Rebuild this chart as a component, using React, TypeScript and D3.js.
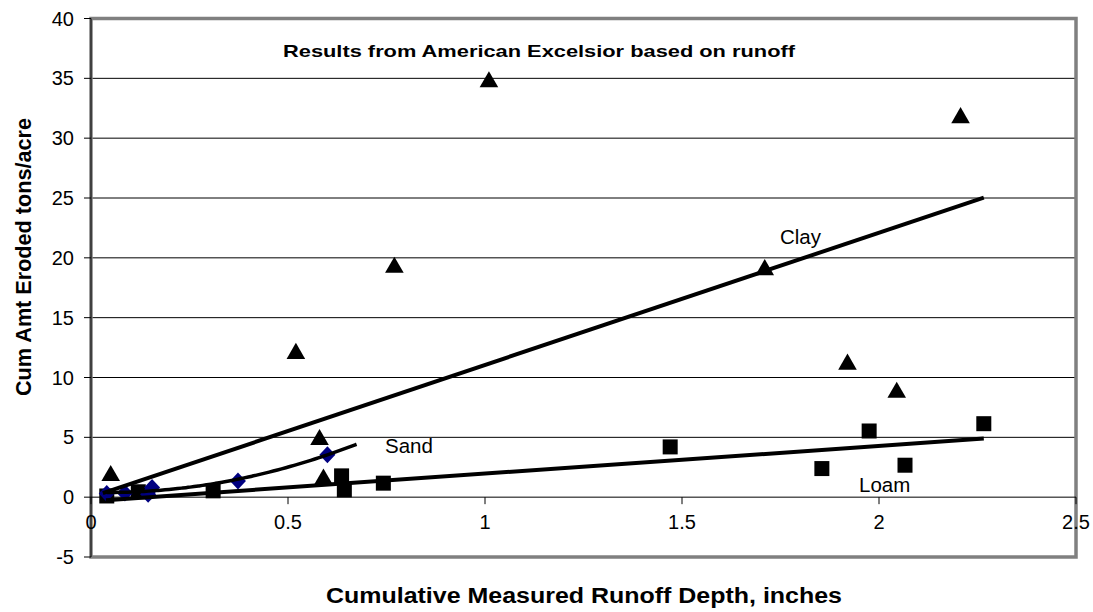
import React from 'react';
import * as d3 from 'd3';

const W = 1093;
const H = 612;

// Observed points per soil type (cumulative runoff depth in inches, erosion in tons/acre)
const clayX = [0.05, 0.52, 0.58, 0.59, 0.77, 1.01, 1.71, 1.92, 2.045, 2.207];
const clayY = [1.8, 12.0, 4.8, 1.5, 19.2, 34.7, 19.0, 11.1, 8.75, 31.7];
const loamX = [0.04, 0.12, 0.31, 0.636, 0.643, 0.742, 1.47, 1.855, 1.975, 2.066, 2.266];
const loamY = [0.1, 0.45, 0.53, 1.78, 0.61, 1.17, 4.2, 2.39, 5.53, 2.67, 6.14];
const sandX = [0.04, 0.086, 0.145, 0.155, 0.373, 0.6];
const sandY = [0.3, 0.35, 0.25, 0.8, 1.35, 3.55];

// Trendline polynomial coefficients (constant, linear, quadratic) and x extents
const clayTrend = [0, 11.05];
const loamTrend = [-0.34, 2.31];
const sandTrend = [0.41, -0.815, 10.04];
const clayTrendRange = [0.03, 2.266];
const loamTrendRange = [0.038, 2.266];
const sandTrendRange = [0.04, 0.674];

const xTicks = [0, 0.5, 1, 1.5, 2, 2.5];
const xTickLabels = ['0', '0.5', '1', '1.5', '2', '2.5'];
const yTicks = [-5, 0, 5, 10, 15, 20, 25, 30, 35, 40];

const title = 'Results from American Excelsior based on runoff';
const xTitle = 'Cumulative Measured Runoff Depth, inches';
const yTitle = 'Cum Amt Eroded tons/acre';

const FONT = 'Liberation Sans, Arial, sans-serif';

const evalPoly = (c: number[], x: number) => c.reduce((s, k, i) => s + k * Math.pow(x, i), 0);

function trendPoints(coef: number[], range: number[], n = 60) {
  const [a, b] = range;
  return d3.range(n + 1).map((i) => {
    const x = a + ((b - a) * i) / n;
    return [x, evalPoly(coef, x)] as [number, number];
  });
}

export default function App() {
  const x = d3.scaleLinear().domain([0, 2.5]).range([91, 1076]);
  const y = d3.scaleLinear().domain([-5, 40]).range([557, 18.5]);
  const line = d3
    .line<[number, number]>()
    .x((d) => x(d[0]))
    .y((d) => y(d[1]));
  const curve = d3
    .line<[number, number]>()
    .x((d) => x(d[0]))
    .y((d) => y(d[1]))
    .curve(d3.curveBasis);

  const tri = d3.symbol().type(d3.symbolTriangle).size(150)();
  const x0 = x(0);
  const x1 = x(2.5);
  const yTop = y(40);
  const yBot = y(-5);

  return (
    <svg
      width={W}
      height={H}
      style={{ position: 'absolute', left: 0, top: 0, background: '#fff' }}
      fontFamily={FONT}
    >
      <rect x={0} y={0} width={W} height={H} fill="#fff" />

      {/* horizontal gridlines */}
      {yTicks
        .filter((t) => t > -5 && t < 40 && t !== 0)
        .map((t) => (
          <line key={t} x1={x0} x2={x1} y1={y(t)} y2={y(t)} stroke="#000" strokeWidth={1} />
        ))}

      {/* plot area border */}
      <rect
        x={x0}
        y={yTop}
        width={x1 - x0}
        height={yBot - yTop}
        fill="none"
        stroke="#808080"
        strokeWidth={3.5}
      />

      {/* y axis */}
      <line x1={x0} x2={x0} y1={yTop} y2={yBot} stroke="#000" strokeWidth={1} />
      {yTicks.map((t) => (
        <g key={t}>
          <line x1={x0 - 7} x2={x0} y1={y(t)} y2={y(t)} stroke="#000" strokeWidth={1} />
          <text x={74} y={y(t)} dy="0.35em" textAnchor="end" fontSize={20} fill="#000">
            {t}
          </text>
        </g>
      ))}

      {/* x axis at zero */}
      <line x1={x0} x2={x1} y1={y(0)} y2={y(0)} stroke="#000" strokeWidth={1} />
      {xTicks.map((t, i) => (
        <g key={t}>
          <line x1={x(t)} x2={x(t)} y1={y(0)} y2={y(0) + 7} stroke="#000" strokeWidth={1} />
          <text x={x(t)} y={529} textAnchor="middle" fontSize={20} fill="#000">
            {xTickLabels[i]}
          </text>
        </g>
      ))}

      {/* markers */}
      {clayX.map((v, i) => (
        <path key={'c' + i} d={tri || ''} transform={`translate(${x(v)},${y(clayY[i])})`} fill="#000" />
      ))}
      {loamX.map((v, i) => (
        <rect key={'l' + i} x={x(v) - 7.5} y={y(loamY[i]) - 7.5} width={15} height={15} fill="#000" />
      ))}
      {sandX.map((v, i) => (
        <path
          key={'s' + i}
          d="M0,-8.5L8,0L0,8.5L-8,0Z"
          transform={`translate(${x(v)},${y(sandY[i])})`}
          fill="#000080"
        />
      ))}

      {/* trendlines */}
      <path d={line(trendPoints(clayTrend, clayTrendRange, 1)) || ''} fill="none" stroke="#000" strokeWidth={4} />
      <path d={line(trendPoints(loamTrend, loamTrendRange, 1)) || ''} fill="none" stroke="#000" strokeWidth={4} />
      <path d={curve(trendPoints(sandTrend, sandTrendRange)) || ''} fill="none" stroke="#000" strokeWidth={3.5} />

      {/* series labels */}
      <text x={780} y={244} fontSize={20.5} fill="#000">Clay</text>
      <text x={385} y={453} fontSize={20.5} fill="#000">Sand</text>
      <text x={859} y={492} fontSize={20.5} fill="#000">Loam</text>

      {/* titles */}
      <text x={283} y={57} fontSize={17} fontWeight="bold" fill="#000" textLength={512} lengthAdjust="spacingAndGlyphs">
        {title}
      </text>
      <text
        x={326}
        y={603}
        fontSize={22}
        fontWeight="bold"
        fill="#000"
        textLength={516}
        lengthAdjust="spacingAndGlyphs"
      >
        {xTitle}
      </text>
      <text
        transform={`translate(31,257) rotate(-90)`}
        textAnchor="middle"
        fontSize={22}
        fontWeight="bold"
        fill="#000"
        textLength={278}
        lengthAdjust="spacingAndGlyphs"
      >
        {yTitle}
      </text>
    </svg>
  );
}
